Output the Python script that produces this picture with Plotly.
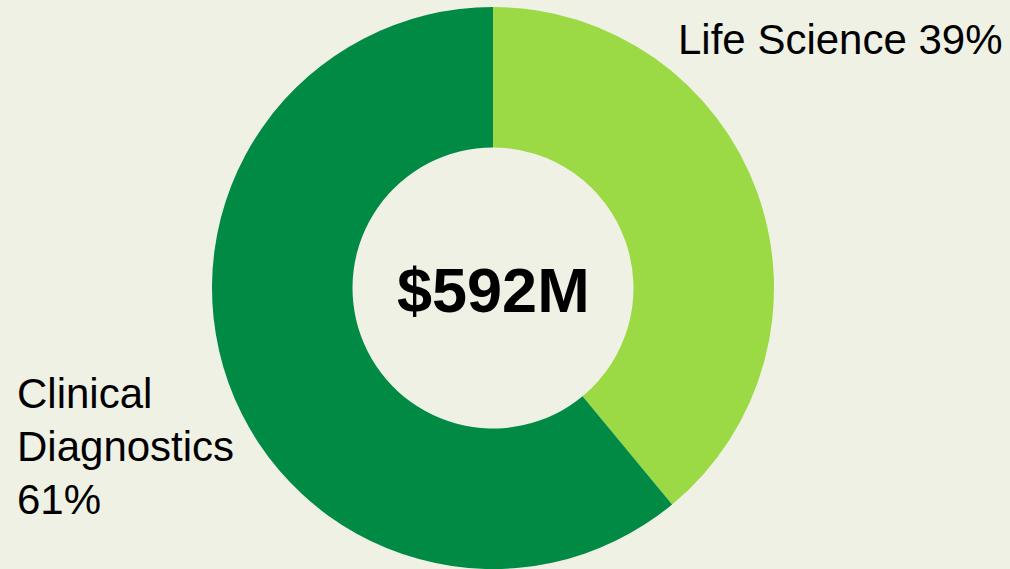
import plotly.graph_objects as go

segments = ["Life Science", "Clinical Diagnostics"]
shares = [39, 61]
colors = ["#9BD945", "#008A43"]
total_label = "$592M"
left_lines = ["Clinical", "Diagnostics", f"{shares[1]}%"]

W, H = 1010, 569
cx, cy, r = 493, 288, 281
bg = "#EFF1E5"

fig = go.Figure(go.Pie(
    labels=segments,
    values=shares,
    hole=0.5,
    sort=False,
    direction="clockwise",
    rotation=0,
    marker=dict(colors=colors, line=dict(width=0)),
    textinfo="none",
    hoverinfo="label+percent",
    showlegend=False,
    domain=dict(x=[(cx - 300) / W, (cx + 300) / W], y=[1 - (cy + r) / H, 1 - (cy - r) / H]),
))

font = "Liberation Sans, Arial, sans-serif"
fig.add_annotation(x=cx / W, y=1 - 290 / H, xref="paper", yref="paper",
                   text=f"<b>{total_label}</b>", showarrow=False,
                   font=dict(family=font, size=63, color="#000000"))
fig.add_annotation(x=676 / W, y=1 - 39 / H, xref="paper", yref="paper",
                   xanchor="left", yanchor="middle",
                   text=f"{segments[0]} {shares[0]}%", showarrow=False,
                   font=dict(family=font, size=42, color="#000000"))
for line, ypx in zip(left_lines, [393, 446, 499]):
    fig.add_annotation(x=15 / W, y=1 - ypx / H, xref="paper", yref="paper",
                       xanchor="left", yanchor="middle", align="left",
                       text=line, showarrow=False,
                       font=dict(family=font, size=42, color="#000000"))

fig.update_layout(
    width=W, height=H,
    margin=dict(l=0, r=0, t=0, b=0),
    paper_bgcolor=bg,
    plot_bgcolor=bg,
)
fig.write_html("out.html", config={"displayModeBar": False},
               post_script=f"document.body.style.margin='0';document.body.style.background='{bg}';document.body.style.overflow='hidden';")
